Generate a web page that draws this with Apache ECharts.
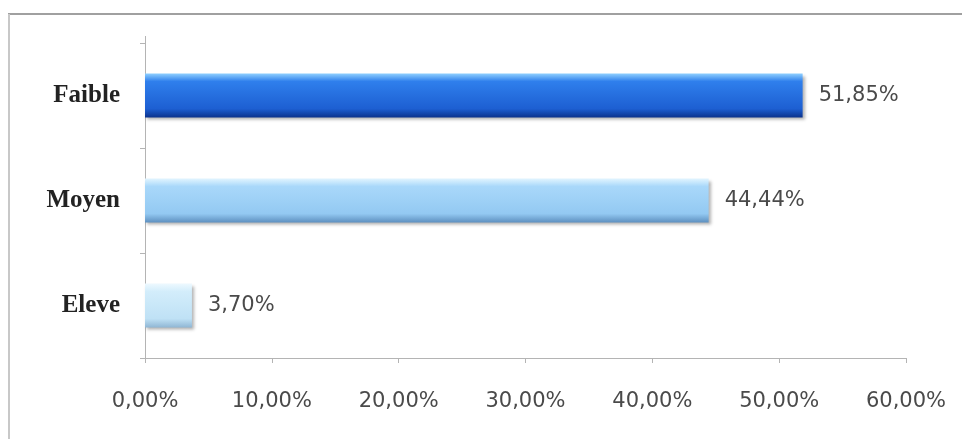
<!DOCTYPE html>
<html>
<head>
<meta charset="utf-8">
<script src="https://cdn.jsdelivr.net/npm/echarts@6/dist/echarts.min.js"></script>
<style>
  html, body { margin: 0; padding: 0; background: #ffffff; }
  #chart { width: 962px; height: 439px; }
</style>
</head>
<body>
<div id="chart"></div>
<script>
// Niveaux, listed from bottom to top of the chart
const categories = ['Eleve', 'Moyen', 'Faible'];
const percentages = [3.70, 44.44, 51.85];
const tickValues = [0, 10, 20, 30, 40, 50, 60];

// One vertical gradient per level, glossy "3D" style
const barFills = [
  ['#eef9ff', '#d3edfb', '#bfe1f5', '#8fb6d4'],
  ['#e2f5ff', '#a9d8fa', '#93c9f2', '#5d8fbf'],
  ['#8fd0ff', '#2f7fec', '#1d5fd2', '#0b328c']
];

function fmt(v) {
  return v.toFixed(2).replace('.', ',') + '%';
}

function gradient(stops) {
  return new echarts.graphic.LinearGradient(0, 0, 0, 1, [
    { offset: 0, color: stops[0] },
    { offset: 0.18, color: stops[1] },
    { offset: 0.8, color: stops[2] },
    { offset: 1, color: stops[3] }
  ]);
}

const chart = echarts.init(document.getElementById('chart'), null, { renderer: 'canvas' });

chart.setOption({
  backgroundColor: '#ffffff',
  animation: false,
  graphic: [
    { type: 'line', shape: { x1: 8, y1: 14, x2: 962, y2: 14 }, style: { stroke: '#a0a0a0', lineWidth: 2 } },
    { type: 'line', shape: { x1: 9, y1: 14, x2: 9, y2: 439 }, style: { stroke: '#c8c8c8', lineWidth: 2 } },
    // short extension of the vertical axis above the plot
    { type: 'line', shape: { x1: 145.5, y1: 36, x2: 145.5, y2: 43 }, style: { stroke: '#b4b4b4', lineWidth: 1 } },
    { type: 'line', shape: { x1: 140, y1: 43.5, x2: 145, y2: 43.5 }, style: { stroke: '#b4b4b4', lineWidth: 1 } }
  ],
  grid: { left: 145, right: 56, top: 43, bottom: 81, containLabel: false },
  xAxis: {
    type: 'value',
    min: tickValues[0],
    max: tickValues[tickValues.length - 1],
    interval: 10,
    axisLine: { show: true, lineStyle: { color: '#b4b4b4', width: 1 } },
    axisTick: { show: true, length: 5, lineStyle: { color: '#b4b4b4' } },
    splitLine: { show: false },
    axisLabel: {
      margin: 33,
      fontFamily: 'DejaVu Sans',
      fontSize: 21,
      color: '#4a4a4a',
      formatter: v => fmt(v)
    }
  },
  yAxis: {
    type: 'category',
    data: categories,
    axisLine: { show: true, lineStyle: { color: '#b4b4b4', width: 1 } },
    axisTick: { show: true, length: 5, lineStyle: { color: '#b4b4b4' } },
    axisLabel: {
      margin: 25,
      fontFamily: 'Liberation Serif',
      fontWeight: 'bold',
      fontSize: 25,
      color: '#222222'
    }
  },
  series: [{
    type: 'bar',
    barWidth: 44,
    data: percentages.map((v, i) => ({
      value: v,
      itemStyle: {
        color: gradient(barFills[i]),
        shadowColor: 'rgba(0,0,0,0.3)',
        shadowBlur: 3,
        shadowOffsetX: 2,
        shadowOffsetY: 2
      }
    })),
    label: {
      show: true,
      position: 'right',
      distance: 16,
      fontFamily: 'DejaVu Sans',
      fontSize: 21,
      color: '#4a4a4a',
      formatter: p => fmt(p.value)
    }
  }]
});
</script>
</body>
</html>
